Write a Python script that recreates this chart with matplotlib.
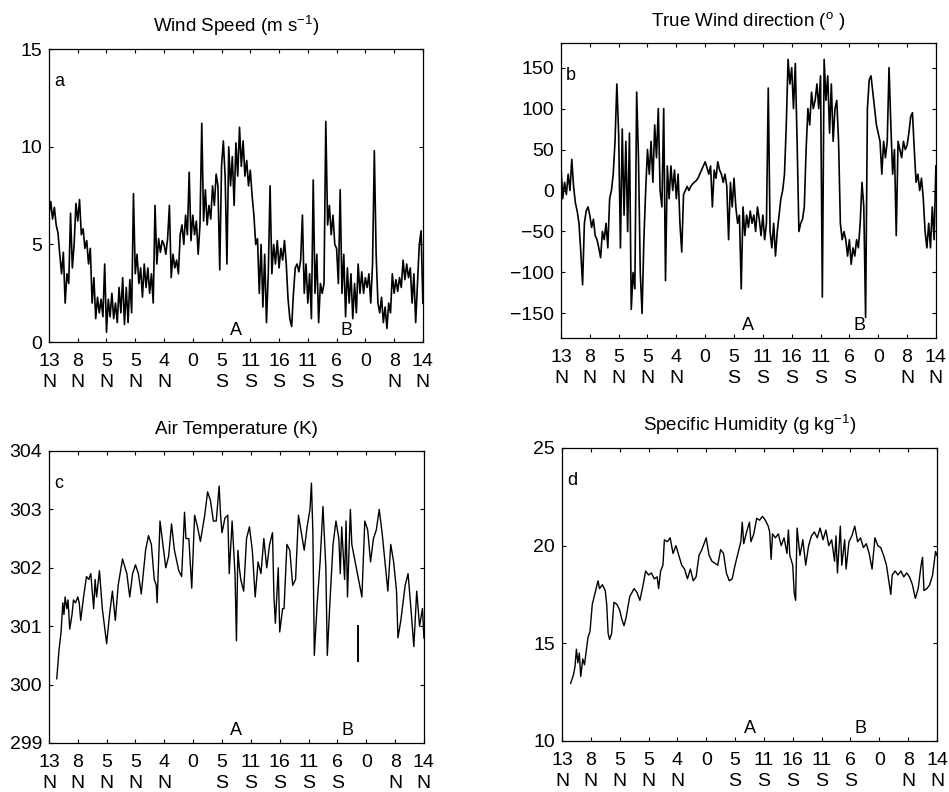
import numpy as np
import matplotlib
matplotlib.use('Agg')
import matplotlib.pyplot as plt
import matplotlib.transforms as mtransforms

plt.rcParams['font.family'] = ['Liberation Sans', 'DejaVu Sans']
plt.rcParams['mathtext.default'] = 'regular'

# ship track latitude labels (one per tick, 0..13)
track_labels = ['13\nN', '8\nN', '5\nN', '5\nN', '4\nN', '0\n ', '5\nS',
                '11\nS', '16\nS', '11\nS', '6\nS', '0\n ', '8\nN', '14\nN']
event_names = ['A', 'B']
event_pos = [6.5, 10.35]

# a) wind speed, 16 samples per tick interval
wind_speed = [
    6.5, 7.2, 6.3, 6.9, 6.0, 5.6, 4.5, 3.5, 4.6, 2.0, 3.5, 3.0, 6.6, 3.8, 5.0, 7.1,
    6.2, 7.3, 5.5, 5.8, 4.8, 5.2, 4.0, 4.8, 2.0, 3.3, 1.2, 2.3, 1.5, 2.2, 1.3, 4.0,
    0.5, 2.2, 1.3, 2.5, 1.2, 2.0, 1.0, 2.8, 1.5, 3.3, 0.9, 2.8, 1.0, 3.2, 1.5, 7.6,
    3.5, 4.5, 3.0, 3.8, 2.3, 4.0, 2.8, 3.8, 2.5, 3.5, 2.0, 7.0, 4.0, 5.3, 4.6, 5.2,
    5.0, 4.5, 5.3, 7.0, 3.3, 4.5, 3.8, 4.2, 3.5, 5.5, 6.0, 5.0, 6.5, 5.5, 8.7, 5.2,
    6.5, 5.5, 6.2, 4.5, 6.0, 11.2, 6.2, 7.8, 6.0, 7.0, 6.3, 8.0, 7.0, 8.6, 8.0, 3.7,
    9.0, 10.3, 8.5, 4.0, 10.0, 8.0, 9.5, 7.0, 10.2, 8.5, 11.0, 9.0, 10.3, 8.5, 9.3, 8.0,
    8.8, 7.5, 6.5, 5.0, 5.3, 2.5, 5.0, 1.8, 4.5, 1.0, 3.5, 8.0, 3.5, 5.0, 4.0, 5.2,
    3.8, 4.8, 4.2, 5.2, 4.0, 2.2, 1.2, 0.8, 2.5, 3.8, 4.0, 3.6, 4.2, 6.5, 2.5, 4.0,
    2.0, 3.5, 1.2, 8.3, 2.5, 4.5, 1.0, 3.0, 2.5, 3.0, 11.3, 6.0, 7.0, 5.5, 6.5, 5.0,
    4.8, 3.0, 7.8, 2.5, 4.5, 1.3, 3.8, 2.0, 3.5, 1.2, 3.0, 1.5, 4.0, 2.5, 3.6, 2.5,
    3.3, 2.8, 3.5, 2.0, 4.0, 9.8, 4.5, 2.0, 1.5, 2.3, 1.0, 1.8, 0.7, 2.0, 1.5, 3.5,
    2.5, 3.2, 2.6, 3.3, 2.8, 4.2, 3.2, 4.0, 3.3, 3.8, 2.0, 3.5, 1.0, 3.0, 5.0, 5.7,
    2.0,
]

# b) true wind direction (deg), 16 samples per tick interval
wind_dir = [
    30, -10, 10, -5, 20, 0, 38, 5, -15, -25, -40, -75, -115, -40, -25, -20,
    -30, -45, -35, -55, -60, -70, -82, -50, -60, -40, -70, -10, 0, 20, 60, 130,
    70, -70, 75, -30, 60, -50, 70, -145, -100, -120, 120, 40, -100, -150, -60, 0,
    50, 20, 60, 10, 80, 40, 100, 0, -20, 100, -110, 30, -10, 30, 0, 25,
    -10, 20, -40, -75, -5, 0, 5, 0, 5, 8, 10, 12, 15, 20, 25, 30,
    35, 28, 20, 30, -20, 25, 15, 35, 25, 20, 10, 20, 5, -60, 10, -20,
    15, -20, -40, -30, -120, -20, -55, -30, -45, -25, -40, -30, -50, -20, -35, -55,
    -30, -60, -40, 125, -50, -70, -40, -80, -50, -30, -10, 0, 20, 80, 160, 130,
    150, 100, 155, 60, -50, -40, -35, -20, 50, 100, 80, 120, 100, 110, 130, 100,
    140, -130, 160, 110, 140, 70, 130, 60, 100, 110, 60, -40, -60, -50, -60, -80,
    -60, -90, -70, -80, -60, -70, -40, 10, -20, -155, 100, 135, 140, 120, 100, 80,
    70, 60, 20, 60, 40, 60, 150, 80, 20, 50, -55, 60, 50, 40, 60, 50,
    55, 70, 90, 95, 50, 10, 20, 0, 15, -10, -50, -70, -40, -70, -20, -60,
    30,
]

# c) air temperature (K)
temp_x = [0.27, 0.35, 0.42, 0.48, 0.52, 0.56, 0.62, 0.66, 0.72, 0.8, 0.85, 0.92,
          1.0, 1.05, 1.1, 1.2, 1.3, 1.38, 1.45, 1.5, 1.55, 1.6, 1.65, 1.75, 1.85, 1.95,
          2.0, 2.1, 2.2, 2.3, 2.4, 2.55, 2.7, 2.8, 2.9,
          3.0, 3.1, 3.2, 3.35, 3.45, 3.55, 3.65, 3.72, 3.75, 3.85, 3.95,
          4.05, 4.15, 4.25, 4.35, 4.5, 4.6, 4.7, 4.75, 4.85, 4.95,
          5.05, 5.15, 5.25, 5.4, 5.5, 5.6, 5.7, 5.8, 5.9, 5.95,
          6.0, 6.1, 6.2, 6.25, 6.35, 6.45, 6.5, 6.55, 6.6, 6.65, 6.75, 6.85, 6.95,
          7.05, 7.15, 7.25, 7.35, 7.45, 7.55, 7.65, 7.75, 7.8, 7.85, 7.95,
          8.0, 8.1, 8.15, 8.25, 8.35, 8.45, 8.55, 8.65, 8.75, 8.85, 8.95,
          9.05, 9.1, 9.15, 9.2, 9.3, 9.4, 9.5, 9.6, 9.65, 9.75, 9.85, 9.95,
          10.05, 10.1, 10.15, 10.25, 10.3, 10.35, 10.45, 10.5, 10.85, 10.95,
          11.05, 11.15, 11.25, 11.35, 11.45, 11.55, 11.65, 11.75, 11.85, 11.95,
          12.05, 12.1, 12.2, 12.35, 12.45, 12.55, 12.65, 12.75, 12.85, 12.95, 13.0]
temp_k = [300.1, 300.6, 300.9, 301.4, 301.2, 301.5, 301.3, 301.45, 300.95, 301.2, 301.45, 301.4,
          301.5, 301.4, 301.1, 301.5, 301.85, 301.8, 301.9, 301.6, 301.3, 301.8, 301.5, 301.95, 301.3, 300.9,
          300.7, 301.2, 301.6, 301.1, 301.7, 302.15, 301.9, 301.5, 301.9,
          302.05, 301.9, 301.55, 302.3, 302.55, 302.4, 301.8, 301.7, 301.4, 302.8, 302.4,
          302.0, 302.2, 302.75, 302.3, 301.95, 301.85, 302.95, 302.5, 302.5, 301.65,
          302.9, 302.7, 302.45, 302.9, 303.3, 303.15, 302.8, 302.8, 303.4, 302.9,
          302.6, 302.85, 302.9, 301.9, 302.8, 301.9, 300.75, 302.3, 302.0, 301.8, 301.6, 302.5, 302.7,
          302.3, 301.5, 302.1, 301.9, 302.5, 302.0, 302.4, 302.6, 301.5, 301.05, 302.0,
          300.9, 301.3, 301.3, 302.4, 302.3, 301.7, 301.8, 302.9, 302.6, 302.3, 302.7,
          303.0, 303.45, 302.6, 300.5, 301.4, 302.1, 303.05, 302.0, 300.5, 301.5, 302.4, 302.8,
          302.5, 301.9, 302.7, 301.8, 302.8, 301.5, 303.0, 302.4, 301.5, 302.8,
          302.65, 302.1, 302.5, 302.65, 303.0, 302.6, 302.1, 301.6, 302.4, 302.1,
          301.6, 300.8, 301.1, 301.7, 301.9, 301.3, 300.65, 301.6, 301.0, 301.3, 300.8]
# short detached segment in the temperature record
temp_gap_x = [10.73, 10.73]
temp_gap_k = [300.4, 301.0]

# d) specific humidity (g/kg)
hum_x = [0.3, 0.4, 0.45, 0.5, 0.55, 0.6, 0.65, 0.72, 0.78, 0.83, 0.9, 0.97,
         1.05, 1.15, 1.25, 1.3, 1.4, 1.5, 1.55, 1.6, 1.65, 1.72, 1.8, 1.9,
         2.0, 2.08, 2.15, 2.22, 2.35, 2.5, 2.6, 2.7, 2.8, 2.9,
         3.0, 3.1, 3.2, 3.3, 3.35, 3.42, 3.5, 3.55, 3.65, 3.75, 3.85, 3.95,
         4.05, 4.15, 4.25, 4.35, 4.45, 4.55, 4.65, 4.75, 4.85, 4.95,
         5.0, 5.1, 5.2, 5.3, 5.4, 5.5, 5.6, 5.7, 5.8, 5.9,
         6.0, 6.1, 6.2, 6.25, 6.3, 6.4, 6.5, 6.55, 6.65, 6.75, 6.85, 6.95,
         7.05, 7.15, 7.2, 7.25, 7.3, 7.4, 7.5, 7.6, 7.7, 7.8, 7.85, 7.9,
         8.0, 8.05, 8.1, 8.15, 8.25, 8.35, 8.45, 8.55, 8.65, 8.75, 8.85, 8.95,
         9.05, 9.15, 9.25, 9.35, 9.45, 9.5, 9.55, 9.65, 9.7, 9.8, 9.85, 9.95,
         10.05, 10.15, 10.25, 10.35, 10.45, 10.55, 10.65, 10.75, 10.85, 10.95,
         11.05, 11.15, 11.25, 11.35, 11.4, 11.45, 11.55, 11.65, 11.75, 11.85, 11.95,
         12.05, 12.15, 12.25, 12.35, 12.45, 12.5, 12.55, 12.65, 12.75, 12.85, 12.95, 13.0]
hum_g = [12.95, 13.4, 13.8, 14.7, 14.0, 14.5, 13.3, 14.2, 13.9, 14.5, 15.3, 15.6,
         17.0, 17.6, 18.2, 17.8, 18.0, 17.7, 17.0, 15.5, 15.2, 15.5, 17.1, 17.0,
         16.7, 16.2, 15.9, 16.3, 17.4, 17.8, 17.6, 17.2, 17.9, 18.7,
         18.5, 18.6, 18.3, 18.4, 17.8, 18.7, 19.0, 20.3, 20.2, 20.4, 19.6, 20.0,
         19.5, 19.0, 18.8, 18.3, 18.8, 18.2, 18.4, 19.5, 19.8, 20.2,
         20.4, 19.5, 19.2, 19.1, 19.0, 19.8, 19.6, 18.6, 18.2, 18.3,
         19.0, 19.6, 20.2, 21.2, 20.1, 20.7, 21.2, 20.2, 20.6, 21.4, 21.3, 21.5,
         21.3, 21.0, 20.7, 19.3, 20.6, 20.4, 20.6, 20.0, 20.4, 19.6, 20.8, 19.5,
         19.0, 17.6, 17.2, 20.9, 19.5, 20.3, 19.0, 20.0, 20.5, 20.7, 20.4, 20.9,
         20.3, 20.8, 20.0, 20.3, 19.2, 20.5, 18.6, 21.0, 19.0, 20.3, 18.8, 20.2,
         20.5, 21.0, 20.2, 20.4, 19.9, 20.1, 19.6, 18.8, 20.4, 20.0,
         19.9, 19.5, 19.0, 18.0, 17.5, 18.5, 18.7, 18.5, 18.7, 18.4, 18.6,
         18.4, 18.0, 17.3, 17.8, 19.0, 19.4, 17.7, 17.8, 18.0, 18.5, 19.7, 19.5]

fig = plt.figure(figsize=(9.49, 7.92), dpi=100)

ax_a = fig.add_axes([0.0516, 0.568, 0.394, 0.370])
ax_b = fig.add_axes([0.5911, 0.5732, 0.3951, 0.3725])
ax_c = fig.add_axes([0.0516, 0.0619, 0.3951, 0.3687])
ax_d = fig.add_axes([0.5922, 0.0644, 0.3951, 0.3700])

ax_a.plot(np.linspace(0, 13, len(wind_speed)), wind_speed, color='black', lw=1.2)
ax_b.plot(np.linspace(0, 13, len(wind_dir)), wind_dir, color='black', lw=1.2)
ax_c.plot(temp_x, temp_k, color='black', lw=1.0)
ax_c.plot(temp_gap_x, temp_gap_k, color='black', lw=1.4)
ax_d.plot(hum_x, hum_g, color='black', lw=1.0)

setup = [
    (ax_a, 'Wind Speed (m s$^{-1}$)', 'a', (0, 15), [0, 5, 10, 15]),
    (ax_b, 'True Wind direction ($^{o}$ )', 'b', (-180, 180), [-150, -100, -50, 0, 50, 100, 150]),
    (ax_c, 'Air Temperature (K)', 'c', (299, 304), [299, 300, 301, 302, 303, 304]),
    (ax_d, 'Specific Humidity (g kg$^{-1}$)', 'd', (10, 25), [10, 15, 20, 25]),
]

for ax, title, letter, ylim, yticks in setup:
    ax.set_xlim(0, 13)
    ax.set_ylim(*ylim)
    ax.set_xticks(range(14))
    ax.set_xticklabels(track_labels)
    for lab in ax.get_xticklabels():
        lab.set_linespacing(1.3)
    ax.set_yticks(yticks)
    ax.tick_params(direction='in', top=True, right=True, length=3, width=0.8,
                   labelsize=14, pad=5)
    ax.tick_params(axis='x', pad=8)
    for s in ax.spines.values():
        s.set_linewidth(0.9)
    ax.set_title(title, fontsize=13.5, pad=12)
    ax.text(0.014, 0.89, letter, transform=ax.transAxes, fontsize=13,
            ha='left', va='center')
    trans = mtransforms.blended_transform_factory(ax.transData, ax.transAxes)
    for name, pos in zip(event_names, event_pos):
        ax.text(pos, 0.012, name, transform=trans, fontsize=13,
                ha='center', va='bottom')

fig.savefig('out.png', dpi=100)
